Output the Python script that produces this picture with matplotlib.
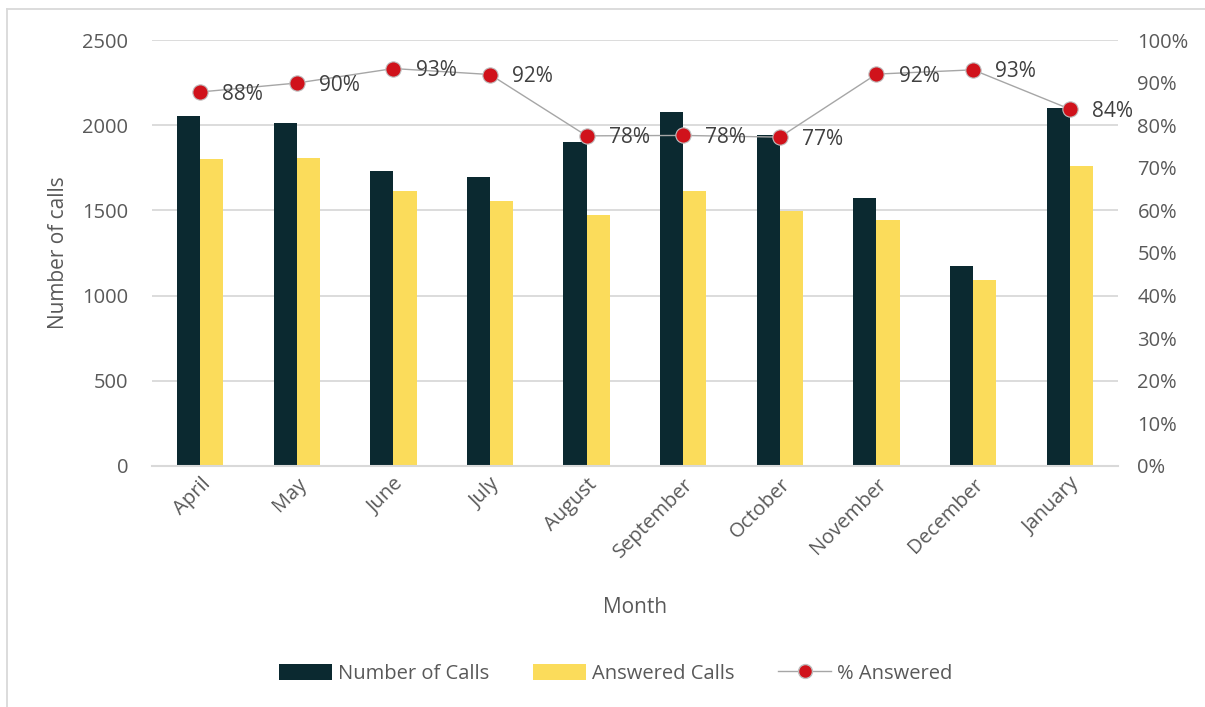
import matplotlib
matplotlib.use("Agg")
import matplotlib.pyplot as plt
from matplotlib.lines import Line2D
from matplotlib.patches import Patch
import numpy as np

plt.rcParams['font.family'] = ['Open Sans', 'DejaVu Sans']

# data
months = ["April", "May", "June", "July", "August", "September",
          "October", "November", "December", "January"]
total_calls = [2053, 2013, 1730, 1695, 1902, 2078, 1941, 1570, 1172, 2103]
answered_calls = [1803, 1810, 1615, 1558, 1474, 1613, 1498, 1445, 1090, 1762]
pct_answered = [0.878, 0.899, 0.933, 0.919, 0.775, 0.776, 0.772, 0.920, 0.930, 0.838]
pct_labels = ["88%", "90%", "93%", "92%", "78%", "78%", "77%", "92%", "93%", "84%"]

DARK = "#0b2930"
YELLOW = "#fbdc5b"
RED = "#d0121b"
TEXT = "#595959"
GRID = "#d9d9d9"

fig = plt.figure(figsize=(12.05, 7.07), dpi=100)
ax = fig.add_axes([0.1261, 0.3409, 0.8017, 0.6025])
ax2 = ax.twinx()

x = np.arange(len(months))
w = 0.24
ax.bar(x - w / 2, total_calls, w, color=DARK, zorder=2)
ax.bar(x + w / 2, answered_calls, w, color=YELLOW, zorder=2)

ax.set_xlim(-0.5, len(months) - 0.5)
ax.set_ylim(0, 2500)
ax.set_yticks(range(0, 2501, 500))
ax.yaxis.grid(True, color=GRID, lw=1.3, zorder=0)
ax.set_axisbelow(True)
for side in ["top", "right", "left"]:
    ax.spines[side].set_visible(False)
ax.spines["bottom"].set_color(GRID)
ax.spines["bottom"].set_linewidth(1.5)
ax.tick_params(axis="y", length=0, pad=17, labelsize=14.5, labelcolor=TEXT)
ax.tick_params(axis="x", length=0, pad=6, labelsize=14.5, labelcolor=TEXT)
ax.set_xticks(x)
ax.set_xticklabels(months, rotation=45, ha="right", rotation_mode="anchor")
ax.set_ylabel("Number of calls", fontsize=15, color=TEXT)
ax.yaxis.set_label_coords(-0.086, 0.5)
ax.set_xlabel("Month", fontsize=15, color=TEXT, labelpad=25)

# percentage line on right axis
ax2.plot(x, pct_answered, color="#a6a6a6", lw=1, marker="o", markersize=11,
         markerfacecolor=RED, markeredgecolor="#bfbfbf", markeredgewidth=0.8, zorder=3)
for xi, p, lab in zip(x, pct_answered, pct_labels):
    ax2.annotate(lab, (xi, p), xytext=(16, -1.5), textcoords="offset points",
                 ha="left", va="center", fontsize=15, color="#404040")
ax2.set_ylim(0, 1)
ax2.set_yticks(np.arange(0, 1.01, 0.1))
ax2.set_yticklabels([f"{int(round(v * 100))}%" for v in np.arange(0, 1.01, 0.1)])
ax2.tick_params(axis="y", length=0, pad=14, labelsize=14.5, labelcolor=TEXT)
for side in ["top", "right", "left", "bottom"]:
    ax2.spines[side].set_visible(False)

handles = [
    Patch(facecolor=DARK, label="Number of Calls"),
    Patch(facecolor=YELLOW, label="Answered Calls"),
    Line2D([0], [0], color="#a6a6a6", lw=1, marker="o", markersize=10,
           markerfacecolor=RED, markeredgecolor="#bfbfbf", label="% Answered"),
]
fig.legend(handles=handles, loc="center", bbox_to_anchor=(0.511, 0.047), ncol=3,
           frameon=False, fontsize=14.5, labelcolor=TEXT, handlelength=2.6,
           handleheight=0.9, handletextpad=0.3, columnspacing=2.2)

# chart-area border (left and top edges visible)
fig.add_artist(Line2D([7 / 1205, 7 / 1205], [0, 1 - 9 / 707], color=GRID, lw=1.3))
fig.add_artist(Line2D([7 / 1205, 1], [1 - 9 / 707, 1 - 9 / 707], color=GRID, lw=1.3))

fig.savefig("out.png", dpi=100)
